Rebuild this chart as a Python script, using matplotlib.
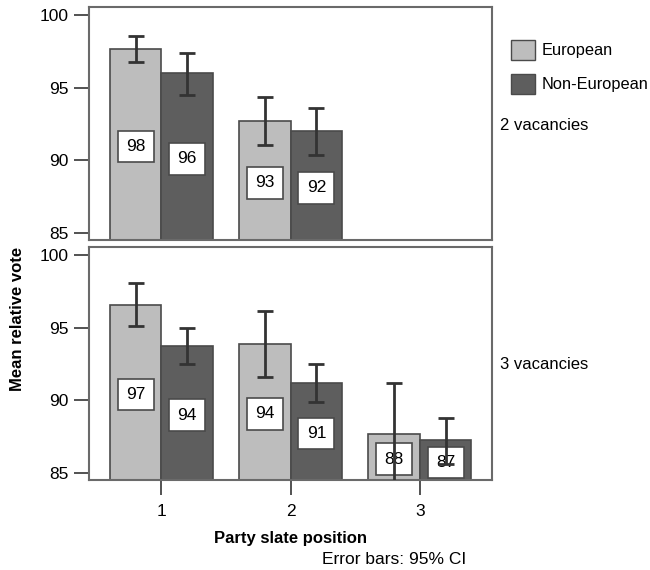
import numpy as np
import matplotlib
matplotlib.use("Agg")
import matplotlib.pyplot as plt
from matplotlib.patches import Patch

plt.rcParams['font.family'] = ['Liberation Sans', 'DejaVu Sans']

# data
positions = [1, 2, 3]
euro_2 = [97.66, 92.7]
euro_2_lo = [96.77, 91.05]
euro_2_hi = [98.55, 94.36]
noneuro_2 = [96.0, 92.0]
noneuro_2_lo = [94.5, 90.37]
noneuro_2_hi = [97.4, 93.6]

euro_3 = [96.56, 93.9, 87.68]
euro_3_lo = [95.09, 91.6, 84.4]
euro_3_hi = [98.03, 96.17, 91.21]
noneuro_3 = [93.72, 91.19, 87.24]
noneuro_3_lo = [92.48, 89.86, 85.62]
noneuro_3_hi = [94.96, 92.5, 88.76]

labels_e2 = ["98", "93"]
labels_n2 = ["96", "92"]
labels_e3 = ["97", "94", "88"]
labels_n3 = ["94", "91", "87"]

c_euro = "#bdbdbd"
c_non = "#5e5e5e"
edge = "#4a4a4a"
ylo, yhi = 84.52, 100.55
w = 0.4

fig = plt.figure(figsize=(6.5, 5.7), dpi=100)
ax1 = fig.add_axes([0.137, 0.579, 0.62, 0.409])
ax2 = fig.add_axes([0.137, 0.158, 0.62, 0.409])


def draw(ax, vals, lo, hi, labs, offset, color):
    x = np.array(positions[:len(vals)]) + offset
    vals = np.array(vals)
    ax.bar(x, vals - ylo, bottom=ylo, width=w, color=color, edgecolor=edge, linewidth=1.2, zorder=2)
    err = [vals - np.array(lo), np.array(hi) - vals]
    ax.errorbar(x, vals, yerr=err, fmt='none', ecolor="#333333", elinewidth=2, capsize=6, capthick=2, zorder=4)
    for xi, v, t in zip(x, vals, labs):
        ax.text(xi, (ylo + v) / 2 - 0.15, t, ha='center', va='center', fontsize=12.5, zorder=3,
                bbox=dict(boxstyle='square,pad=0.48', fc='white', ec=edge, lw=1.2))


draw(ax1, euro_2, euro_2_lo, euro_2_hi, labels_e2, -w / 2, c_euro)
draw(ax1, noneuro_2, noneuro_2_lo, noneuro_2_hi, labels_n2, w / 2, c_non)
draw(ax2, euro_3, euro_3_lo, euro_3_hi, labels_e3, -w / 2, c_euro)
draw(ax2, noneuro_3, noneuro_3_lo, noneuro_3_hi, labels_n3, w / 2, c_non)

for ax in (ax1, ax2):
    ax.set_xlim(0.44, 3.56)
    ax.set_ylim(ylo, yhi)
    ax.set_yticks([85, 90, 95, 100])
    ax.tick_params(axis='y', length=11, width=1.3, color="#444444", labelsize=12.5, pad=4)
    for s in ax.spines.values():
        s.set_color("#6a6a6a")
        s.set_linewidth(1.5)

ax1.set_xticks([])
ax2.set_xticks(positions)
ax2.tick_params(axis='x', length=11, width=1.3, color="#444444", labelsize=12.5, pad=6)

fig.text(0.027, 0.44, "Mean relative vote", rotation=90, ha='center', va='center',
         fontsize=12, fontweight='bold')
fig.text(0.447, 0.056, "Party slate position", ha='center', va='center', fontsize=12, fontweight='bold')
fig.text(0.606, 0.018, "Error bars: 95% CI", ha='center', va='center', fontsize=12.5)
fig.text(0.769, 0.779, "2 vacancies", ha='left', va='center', fontsize=12)
fig.text(0.769, 0.361, "3 vacancies", ha='left', va='center', fontsize=12)

handles = [Patch(facecolor=c_euro, edgecolor=edge, label="European"),
           Patch(facecolor=c_non, edgecolor=edge, label="Non-European")]
fig.legend(handles=handles, loc='upper left', bbox_to_anchor=(0.786, 0.93), frameon=False,
           borderpad=0, borderaxespad=0,
           fontsize=11.8, handlelength=1.5, handleheight=1.5, labelspacing=0.85, handletextpad=0.4)

fig.savefig("out.png", dpi=100)
